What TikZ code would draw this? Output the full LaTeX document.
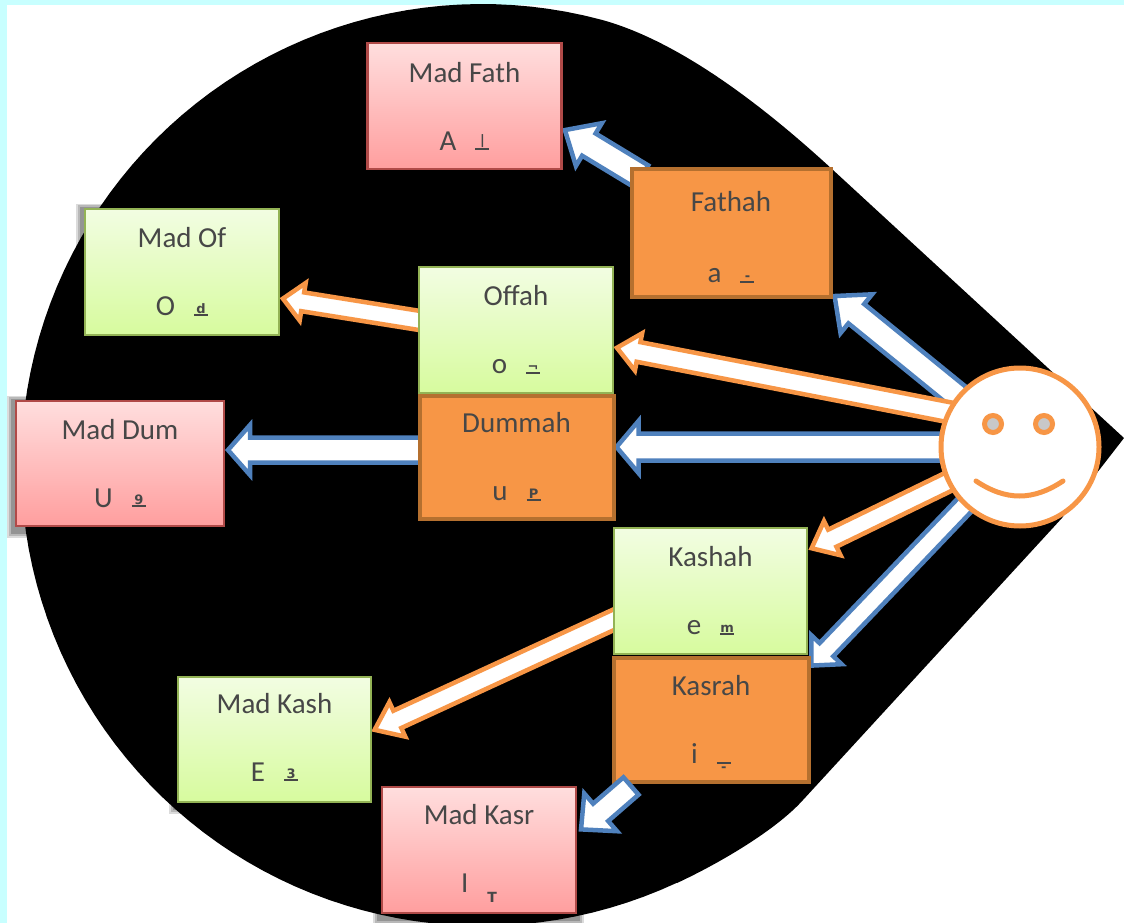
\documentclass[tikz,border=0pt]{standalone}
\usepackage{fontspec}
\setmainfont{Carlito}
\newfontfamily\markfont{DejaVu Sans}
\usetikzlibrary{calc,backgrounds}
\pgfdeclarelayer{arrowlayer}
\pgfsetlayers{background,arrowlayer,main}
\definecolor{cyanband}{HTML}{C8FFFF}
\definecolor{arrowblue}{HTML}{4F81BD}
\definecolor{arroworange}{HTML}{F79646}
\definecolor{boxorange}{HTML}{F79646}
\definecolor{borderorange}{HTML}{B5702F}
\definecolor{borderred}{HTML}{B04A48}
\definecolor{bordergreen}{HTML}{93B355}
\definecolor{eyegrey}{HTML}{C8C8C8}
\tikzset{
  x=1pt,y=-1pt,
  basebox/.style={rectangle,inner sep=0pt,outer sep=0pt,align=center,
    font=\fontsize{29}{29}\selectfont,text=black!72},
  redbox/.style={basebox,draw=borderred,line width=2.2pt,
    top color={rgb,255:red,255;green,222;blue,222},bottom color={rgb,255:red,255;green,158;blue,158}},
  greenbox/.style={basebox,draw=bordergreen,line width=2.2pt,
    top color={rgb,255:red,242;green,253;blue,226},bottom color={rgb,255:red,215;green,251;blue,158}},
  orangebox/.style={basebox,draw=borderorange,line width=4pt,fill=boxorange},
  blockline/.style={fill=white,line width=4.5pt,miter limit=20,line join=miter},
  facering/.style={draw=arroworange,line width=5pt},
}
\newcommand\lsk{\\[39pt]}
\newcommand\mku[1]{\vbox{\hbox to 14pt{\hss\markfont\bfseries\fontsize{13}{13}\selectfont #1\hss}\kern0.5pt\hrule height 2pt}}
\newcommand\mko[1]{\vbox{\hbox to 14pt{\hss\raisebox{-10pt}[0pt][0pt]{\markfont\bfseries\fontsize{13}{13}\selectfont #1}\hss}\hrule height 2pt}}
\newcommand\gp{\hspace{19pt}}
\newcommand\blockarrow[6]{%
  \coordinate (bT) at ($(#2)!4pt!(#1)$);
  \coordinate (bH) at ($(bT)!#5pt!(#1)$);
  \draw[blockline,draw=#6] (bT) -- ($(bH)!#4pt!90:(bT)$) -- ($(bH)!#3pt!90:(bT)$)
    -- ($(#1)!#3pt!90:(bT)$) -- ($(#1)!#3pt!-90:(bT)$)
    -- ($(bH)!#3pt!-90:(bT)$) -- ($(bH)!#4pt!-90:(bT)$) -- cycle;
}
\newcommand\softshadow[1]{%
  \fill[black!14] ($(#1.north west)+(-9,-5)$) rectangle ($(#1.south east)+(8,12)$);
  \fill[black!28] ($(#1.north west)+(-7,-4)$) rectangle ($(#1.south east)+(6,10)$);
  \fill[black!42] ($(#1.north west)+(-5,-2)$) rectangle ($(#1.south east)+(4,8)$);
}
\begin{document}
\begin{tikzpicture}
\useasboundingbox (0,0) rectangle (1124,923);
% boxes
\node[redbox,minimum width=194pt,minimum height=126pt] (madfath) at (464.5,106) {Mad Fath\lsk A\gp\mku{|}};
\node[orangebox,minimum width=199pt,minimum height=128pt] (fathah) at (731,232.5) {\rule{0pt}{30pt}Fathah\\[42pt] a\gp\mku{-}};
\node[greenbox,minimum width=194pt,minimum height=126pt] (madof) at (182,272) {Mad Of\lsk O\gp\mku{d}};
\node[greenbox,minimum width=194pt,minimum height=126pt] (offah) at (516,330) {Offah\lsk o\gp\mku{¬}};
\node[orangebox,minimum width=194pt,minimum height=123pt] (dummah) at (516.5,457) {Dummah\lsk u\gp\mku{P}};
\node[redbox,minimum width=208pt,minimum height=125pt] (maddum) at (120,463.5) {Mad Dum\lsk U\gp\mku{9}};
\node[orangebox,minimum width=195pt,minimum height=124pt] (kasrah) at (711,719.5) {Kasrah\lsk i\gp\mko{-}};
\node[greenbox,minimum width=193pt,minimum height=126pt] (kashah) at (710.5,591) {Kashah\lsk e\gp\mku{m}};
\node[greenbox,minimum width=193pt,minimum height=125pt] (madkash) at (274.5,739.5) {Mad Kash\lsk E\gp\mku{3}\rule[-5pt]{0pt}{1pt}};
\node[redbox,minimum width=194pt,minimum height=126pt] (madkasr) at (479,850) {\rule{0pt}{27pt}Mad Kasr\lsk I\gp\raisebox{-10pt}{\markfont\bfseries\fontsize{14}{14}\selectfont T}};
% face
\node[circle,facering,fill=white,minimum size=158pt,inner sep=0pt,outer sep=0pt] (face) at (1020,447) {};
\node[circle,facering,fill=eyegrey,minimum size=17pt,inner sep=0pt] (eyeL) at (993,424) {};
\node[circle,facering,fill=eyegrey,minimum size=17pt,inner sep=0pt] (eyeR) at (1044,424) {};
\coordinate (smileL) at ($(face.center)+(-44,34)$);
\coordinate (smileR) at ($(face.center)+(43,34)$);
\draw[facering,line cap=round] (smileL) .. controls ($(smileL)+(30,20)$) and ($(smileR)+(-30,20)$) .. (smileR);
% arrow ends
\coordinate (tMadFath) at ($(madfath.east)+(0,22)$);
\coordinate (fFathah) at ($(fathah.west)+(10,-56)$);
\coordinate (tFathah) at ($(fathah.south east)+(1,-3)$);
\coordinate (tOffah) at ($(offah.east)+(0,17)$);
\coordinate (fFace) at (face.center);
\coordinate (fFaceO) at ($(face.center)+(0,-21)$);
\coordinate (tDummah) at ($(dummah.east)+(-1,-10)$);
\coordinate (fOffah) at ($(offah.west)+(10,-8)$);
\coordinate (tMadOf) at ($(madof.east)+(0,26)$);
\coordinate (fDummah) at ($(dummah.west)+(10,-7)$);
\coordinate (tMadDum) at ($(maddum.east)+(0,-13.5)$);
\coordinate (tKashah) at ($(kashah.south east)+(1,-104)$);
\coordinate (tKasrah) at ($(kasrah.north east)+(0,11)$);
\coordinate (fKashah) at ($(kashah.west)+(10,24)$);
\coordinate (tMadKash) at ($(madkash.east)+(0,-8)$);
\coordinate (fKasrah) at (631,786);
\coordinate (tMadKasr) at ($(madkasr.east)+(2,-18)$);
% arrows behind boxes
\begin{pgfonlayer}{arrowlayer}
\blockarrow{fFathah}{tMadFath}{13}{25}{28}{arrowblue}
\blockarrow{fFace}{tFathah}{12.5}{25}{28}{arrowblue}
\blockarrow{fFaceO}{tOffah}{10}{19}{22}{arroworange}
\blockarrow{fFace}{tDummah}{13.5}{26}{22}{arrowblue}
\blockarrow{fOffah}{tMadOf}{9.5}{19}{20}{arroworange}
\blockarrow{fDummah}{tMadDum}{12.5}{25}{22}{arrowblue}
\blockarrow{fFace}{tKashah}{9.5}{19}{23}{arroworange}
\blockarrow{fFace}{tKasrah}{9.5}{21}{22}{arrowblue}
\blockarrow{fKashah}{tMadKash}{9.5}{19}{25}{arroworange}
\end{pgfonlayer}
\blockarrow{fKasrah}{tMadKasr}{11.5}{25}{26}{arrowblue}
% page and teardrop
\begin{pgfonlayer}{background}
\fill[cyanband] (0,0) rectangle (1124,923);
\fill[white] (7,5) rectangle (1124,923);
\softshadow{madof}
\softshadow{maddum}
\softshadow{madkash}
\softshadow{madkasr}
\fill[black] (1124,438) -- (1062,518) -- (803,800)
  .. controls (776,830) and (720,863) .. (677,883)
  -- plot[domain=65:285,samples=100] ({482+461*cos(\x)},{465+461*sin(\x)})
  .. controls (683,42) and (770,112) .. (833,170) -- cycle;
\end{pgfonlayer}
\end{tikzpicture}
\end{document}
